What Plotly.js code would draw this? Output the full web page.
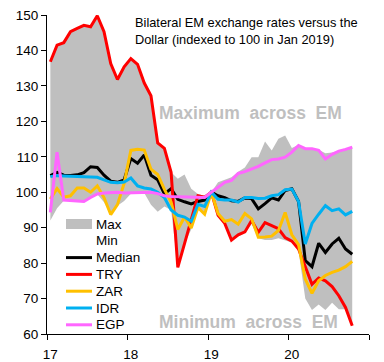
<!DOCTYPE html>
<html>
<head>
<meta charset="utf-8">
<script src="https://cdn.plot.ly/plotly-3.0.1.min.js"></script>
<style>html,body{margin:0;padding:0;background:#fff;}#chart{width:384px;height:362px;}</style>
</head>
<body>
<div id="chart"></div>
<script>
// Monthly observations, Jan 2017 .. Oct 2020 (indexed to 100 in Jan 2019)
var yearLabels = ['17', '18', '19', '20'];
var TRY = [136.8,141.5,142.2,145.3,146.2,147.1,146.7,149.8,145.3,136.3,131.8,135.4,
           137.7,136.1,130.8,127.2,113.9,112.4,105.6,78.8,85.5,92.5,99.0,98.6,
           100,93.5,91.2,86.5,88.0,88.8,92.0,88.7,91.4,90.6,89.7,87.2,
           86.2,84.0,79.0,74.0,75.8,75.0,73.4,70.8,67.5,62.3];
var ZAR = [98.1,101.0,98.6,99.0,101.2,101.2,100.0,101.8,98.5,93.7,96.5,102.5,
           111.8,112.1,111.9,106.5,105.0,100.8,97.2,89.5,93.0,89.9,95.7,93.8,
           100,94.0,91.8,92.3,91.0,94.0,92.5,87.3,87.4,87.6,89.2,94.3,
           88.0,85.2,75.5,71.5,75.0,76.5,77.4,78.0,79.0,80.5];
var IDR = [104.4,104.7,104.6,104.5,104.4,104.5,104.4,104.2,103.5,102.8,102.7,102.9,
           104.0,101.8,101.2,100.9,100.0,98.5,95.0,93.5,93.0,91.8,96.6,96.0,
           100,98.0,97.8,97.8,97.2,98.5,98.5,98.2,98.3,99.0,99.3,100.7,
           100.9,97.4,85.4,91.2,93.8,96.2,94.8,95.3,93.6,94.6];
var EGP = [94.3,111.3,97.8,97.6,97.5,97.4,98.5,99.5,99.8,100,100,99.8,
           99.8,100,100,100,99.6,99.0,98.8,98.7,98.7,98.6,98.6,98.5,
           100,101.4,102.8,103.3,105.3,105.8,106.5,107.3,108.3,109.2,109.4,109.9,
           111.3,113.2,112.3,112.3,111.8,109.4,110.7,111.6,112.1,112.7];
var MEDIAN = [104.7,105.6,104.8,104.7,104.9,105.5,107.2,107.0,104.8,103.1,102.8,103.5,
              109.5,108.2,110.5,104.8,103.5,99.5,101.0,98.0,97.3,96.7,97.4,97.8,
              100,99.0,98.5,97.6,97.4,98.4,98.2,95.3,96.8,98.4,97.8,100.5,
              101.0,97.4,80.7,79.0,85.6,83.0,85.4,87.0,84.0,82.5];
var MAX = [136.8,141.5,142.2,145.3,146.2,147.1,146.7,149.8,145.3,136.3,131.8,135.4,
           137.7,136.1,130.8,127.2,113.9,112.4,105.6,103.8,105.0,101.0,99.5,99.0,
           100,102.8,103.5,104.2,105.8,107.0,109.9,109.9,114.3,111.8,115.1,116.0,
           112.5,113.4,112.4,112.3,112.0,111.0,111.2,111.7,112.2,112.8];
var MIN = [92.0,95.5,97.6,97.5,97.4,97.3,98.4,99.4,97.2,93.7,96.2,97.5,
           99.6,99.8,99.8,96.5,94.5,96.0,95.0,78.8,85.5,89.5,95.5,93.5,
           100,93.0,91.0,86.5,87.5,88.5,91.0,87.0,86.5,86.5,87.0,86.5,
           85.8,83.5,70.0,66.8,68.3,66.8,68.8,67.0,67.0,62.3];

var seriesNames  = ['Max', 'Min', 'Median', 'TRY', 'ZAR', 'IDR', 'EGP'];
var seriesColors = ['#BFBFBF', null, '#000000', '#FF0000', '#FFC000', '#00B0F0', '#FF66FF'];

var months = TRY.map(function(_, i){ return i; });
var yearStarts = yearLabels.map(function(_, k){ return k * 12; });
var yearBounds = [-0.5, 11.5, 23.5, 35.5, 47.5];

var FONT = 'Liberation Sans, Arial, sans-serif';
var W = 384, H = 362, M = {l: 47, r: 15, t: 15, b: 28};
var PW = W - M.l - M.r, PH = H - M.t - M.b;
function px(x){ return (x - M.l) / PW; }
function py(y){ return (H - M.b - y) / PH; }

function line(name, y, color) {
  return {x: months, y: y, name: name, type: 'scatter', mode: 'lines',
          line: {color: color, width: 3}, hoverinfo: 'skip'};
}
var traces = [
  {x: months, y: MIN, name: 'Min', type: 'scatter', mode: 'lines',
   line: {color: 'rgba(0,0,0,0)', width: 0}, hoverinfo: 'skip'},
  {x: months, y: MAX, name: 'Max', type: 'scatter', mode: 'lines', fill: 'tonexty',
   fillcolor: '#BFBFBF', line: {color: 'rgba(0,0,0,0)', width: 0}, hoverinfo: 'skip'},
  line('Median', MEDIAN, '#000000'),
  line('TRY', TRY, '#FF0000'),
  line('ZAR', ZAR, '#FFC000'),
  line('IDR', IDR, '#00B0F0'),
  line('EGP', EGP, '#FF66FF'),
  {x: [0], y: [null], xaxis: 'x2', type: 'scatter', showlegend: false, hoverinfo: 'skip'}
];

// Legend (drawn as shapes + text to match the compact spacing of the original)
var shapes = [], annotations = [];
var legTop = 224, legStep = 16.8, symX0 = 66, symX1 = 92, textX = 94;
seriesNames.forEach(function(name, k){
  var yc = legTop + k * legStep;
  var col = seriesColors[k];
  if (name === 'Max') {
    shapes.push({type: 'rect', xref: 'paper', yref: 'paper', x0: px(symX0), x1: px(symX1),
                 y0: py(yc + 5), y1: py(yc - 5), fillcolor: col, line: {width: 0}});
  } else if (col) {
    shapes.push({type: 'line', xref: 'paper', yref: 'paper', x0: px(symX0), x1: px(symX1),
                 y0: py(yc), y1: py(yc), line: {color: col, width: 3}});
  }
  annotations.push({xref: 'paper', yref: 'paper', x: px(textX), y: py(yc),
                    xanchor: 'left', yanchor: 'middle', text: name, showarrow: false,
                    font: {family: FONT, size: 13.5, color: '#000'}});
});

annotations.push(
  {xref: 'paper', yref: 'y', x: 0.268, y: 148.0, xanchor: 'left', yanchor: 'middle',
   text: 'Bilateral EM exchange rates versus the', showarrow: false,
   font: {family: FONT, size: 12.8, color: '#000'}},
  {xref: 'paper', yref: 'y', x: 0.268, y: 143.0, xanchor: 'left', yanchor: 'middle',
   text: 'Dollar (indexed to 100 in Jan 2019)', showarrow: false,
   font: {family: FONT, size: 12.8, color: '#000'}},
  {xref: 'x', yref: 'y', x: 29.8, y: 122.3, xanchor: 'center', yanchor: 'middle',
   text: '<b>Maximum  across  EM</b>', showarrow: false,
   font: {family: FONT, size: 17.5, color: '#BFBFBF'}},
  {xref: 'x', yref: 'y', x: 29.6, y: 63.5, xanchor: 'center', yanchor: 'middle',
   text: '<b>Minimum  across  EM</b>', showarrow: false,
   font: {family: FONT, size: 17.5, color: '#BFBFBF'}}
);

var layout = {
  width: W, height: H,
  margin: M,
  paper_bgcolor: '#fff', plot_bgcolor: '#fff',
  font: {family: FONT, size: 13, color: '#000'},
  showlegend: false,
  xaxis: {range: [-0.5, 47.5], tickmode: 'array', tickvals: yearBounds,
          showticklabels: false, ticks: 'outside', ticklen: 5, tickcolor: '#000',
          showline: true, linecolor: '#000', linewidth: 1, showgrid: false, zeroline: false},
  xaxis2: {range: [-0.5, 47.5], overlaying: 'x', anchor: 'y', side: 'bottom',
           tickmode: 'array', tickvals: yearStarts, ticktext: yearLabels,
           ticks: 'outside', ticklen: 5, tickcolor: 'rgba(0,0,0,0)', ticklabelstandoff: 3,
           showline: false, showgrid: false, zeroline: false,
           tickfont: {size: 13.5, color: '#000'}},
  yaxis: {range: [60, 150], dtick: 10, tick0: 60, ticks: 'outside', ticklen: 5, tickcolor: '#000',
          showline: true, linecolor: '#000', linewidth: 1, showgrid: false, zeroline: false,
          tickfont: {size: 13.5, color: '#000'}},
  shapes: shapes,
  annotations: annotations
};

Plotly.newPlot('chart', traces, layout, {staticPlot: true, displayModeBar: false});
</script>
</body>
</html>
